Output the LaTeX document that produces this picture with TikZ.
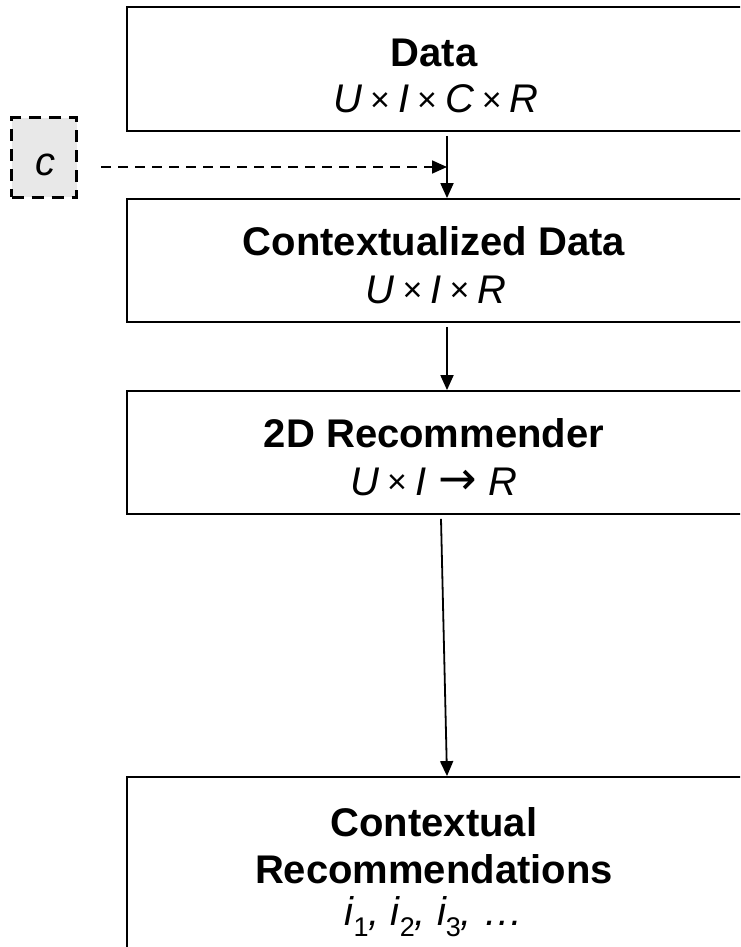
\documentclass[tikz,border=0pt]{standalone}
\usepackage{fontspec}
\setmainfont{Liberation Sans}
\newfontfamily\symfont{DejaVu Sans}
\usetikzlibrary{arrows.meta}

\newcommand{\bigfont}{\fontsize{40}{48}\selectfont}
\newcommand{\subfont}{\fontsize{27}{30}\selectfont\upshape}
\newcommand{\tms}{\hspace{0.2em}\raisebox{0.04em}{\fontsize{34}{36}\selectfont\upshape ×}\hspace{0.2em}}
\newcommand{\sub}[1]{\raisebox{-0.28em}{\subfont #1}}
\newcommand{\maps}{\hspace{0.3em}\raisebox{0.02em}{\symfont\upshape\fontsize{46}{48}\selectfont →}\hspace{0.3em}}

\begin{document}
\begin{tikzpicture}[x=1pt,y=-1pt,
  stage/.style={draw=black, line width=1.8pt, fill=white, inner sep=0pt},
  heading/.style={anchor=base, inner sep=0pt, font=\bigfont\bfseries},
  formula/.style={anchor=base, inner sep=0pt, font=\bigfont\itshape},
  arr/.style={draw=black, line width=1.8pt, -{Triangle[length=15pt,width=13pt]}},
  ctxbox/.style={draw=black, dashed, dash pattern=on 12pt off 8pt, line width=3pt,
    fill=black!9, minimum width=65pt, minimum height=79pt, inner sep=0pt},
  dasharr/.style={draw=black, line width=1.8pt, dash pattern=on 10pt off 7pt,
    -{Triangle[length=15pt,width=13pt]}}]

  \useasboundingbox (0,0) rectangle (740,947);
  \clip (0,0) rectangle (740,947);

  % processing stages
  \node[stage, minimum width=620pt, minimum height=124pt] (data) at (437,69) {};
  \node[stage, minimum width=620pt, minimum height=123pt] (cdata) at (437,260.5) {};
  \node[stage, minimum width=620pt, minimum height=123pt] (rec) at (437,452.5) {};
  \node[stage, minimum width=620pt, minimum height=220pt] (out) at (437,887) {};

  % stage labels
  \node[heading] (t1) at (434,67) {Data};
  \node[formula] (f1) at (436,113) {U\tms I\tms C\tms R};
  \node[heading] (t2) at (434,255) {Contextualized Data};
  \node[formula] (f2) at (436,303) {U\tms I\tms R};
  \node[heading] (t3) at (434,447) {2D Recommender};
  \node[formula] (f3) at (434,495) {U\tms I\maps R};
  \node[heading] (t4a) at (434,836) {Contextual};
  \node[heading] (t4b) at (434,883) {Recommendations};
  \node[formula] (f4) at (434,925) {i\sub{1}, i\sub{2}, i\sub{3}, …};

  % context selector
  \node[ctxbox] (ctx) at (44,157.5) {};
  \node[formula, anchor=center] (ctxlabel) at (45,165) {c};

  % flow between stages
  \coordinate (j) at (447,167);
  \draw[arr] ([xshift=10pt,yshift=-4pt]data.south) -- ([xshift=10pt]cdata.north);
  \draw[dasharr] ([xshift=23pt]ctx.east |- j) -- (j);
  \draw[arr] ([xshift=10pt,yshift=-4pt]cdata.south) -- ([xshift=10pt]rec.north);
  \draw[arr] ([xshift=4pt,yshift=-4pt]rec.south) -- ([xshift=10pt]out.north);
\end{tikzpicture}
\end{document}
